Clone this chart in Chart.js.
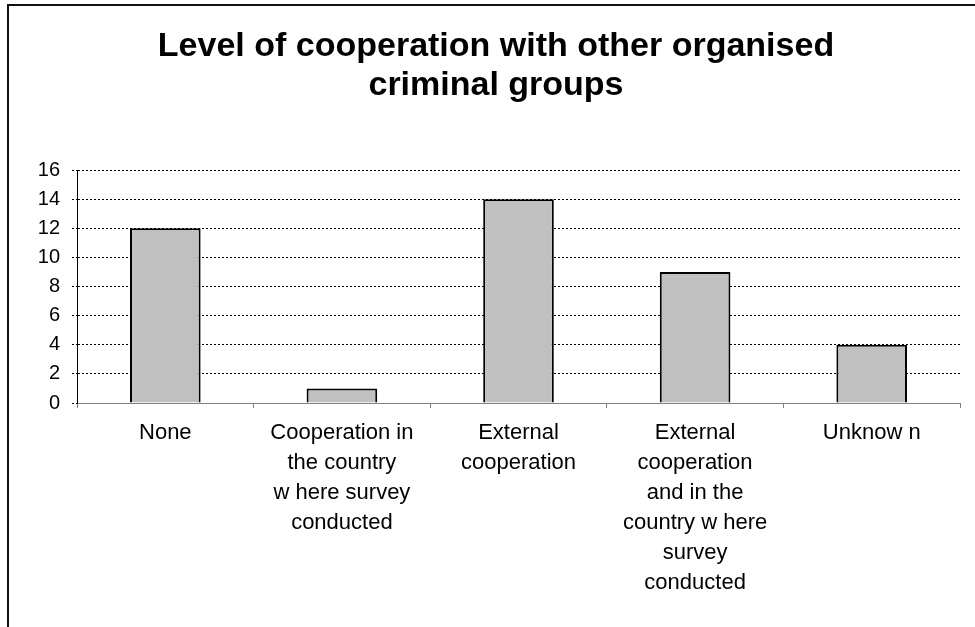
<!DOCTYPE html>
<html>
<head>
<meta charset="utf-8">
<script src="https://cdn.jsdelivr.net/npm/chart.js@4/dist/chart.umd.min.js"></script>
<style>
  html, body { margin: 0; padding: 0; background: #fff; overflow: hidden; }
  #frame { position: absolute; left: 7px; top: 4px; width: 1100px; height: 800px;
           border-left: 2px solid #111; border-top: 2px solid #111; }
  #wrap { position: absolute; left: 0; top: 0; width: 975px; height: 627px; }
</style>
</head>
<body>
<div id="frame"></div>
<div id="wrap"><canvas id="chart"></canvas></div>
<script>
const titleLines = ["Level of cooperation with other organised", "criminal groups"];
const categories = [
    ["None"],
    ["Cooperation in", "the country", "w here survey", "conducted"],
    ["External", "cooperation"],
    ["External", "cooperation", "and in the", "country w here", "survey", "conducted"],
    ["Unknow n"]
];
const counts = [12, 1, 14, 9, 4];
const yTicks = [0, 2, 4, 6, 8, 10, 12, 14, 16];

const fontFamily = '"Liberation Sans", Arial, sans-serif';

const ctx = document.getElementById("chart").getContext("2d");
new Chart(ctx, {
    type: "bar",
    data: {
        labels: categories,
        datasets: [{
            data: counts,
            backgroundColor: "#c0c0c0",
            borderColor: "#000",
            borderWidth: 2,
            barPercentage: 0.4,
            categoryPercentage: 1
        }]
    },
    options: {
        responsive: true,
        maintainAspectRatio: false,
        animation: false,
        layout: { padding: { left: 32, right: 15, top: 0, bottom: 0 } },
        plugins: {
            legend: { display: false },
            tooltip: { enabled: false },
            title: {
                display: true,
                text: titleLines,
                color: "#000",
                font: { family: fontFamily, size: 34, weight: "bold", lineHeight: 39 / 34 },
                padding: { top: 27, bottom: 65 }
            }
        },
        scales: {
            x: {
                afterFit: (scale) => { scale.height = 224; },
                grid: {
                    offset: true,
                    drawOnChartArea: false,
                    drawTicks: true,
                    tickLength: 5,
                    color: "#808080"
                },
                border: { color: "#808080", width: 1 },
                ticks: {
                    color: "#000",
                    padding: 10,
                    maxRotation: 0,
                    minRotation: 0,
                    autoSkip: false,
                    font: { family: fontFamily, size: 22, lineHeight: 30 / 22 }
                }
            },
            y: {
                min: 0,
                max: 16,
                afterFit: (scale) => { scale.width = 45; },
                afterBuildTicks: (scale) => { scale.ticks = yTicks.map(v => ({ value: v })); },
                grid: {
                    color: "#000",
                    lineWidth: 1,
                    tickLength: 5,
                    tickBorderDash: [2, 2],
                    tickColor: "#000"
                },
                border: { color: "#000", width: 1, dash: [2, 2] },
                ticks: {
                    color: "#000",
                    padding: 12,
                    font: { family: fontFamily, size: 20 }
                }
            }
        }
    }
});
</script>
</body>
</html>
